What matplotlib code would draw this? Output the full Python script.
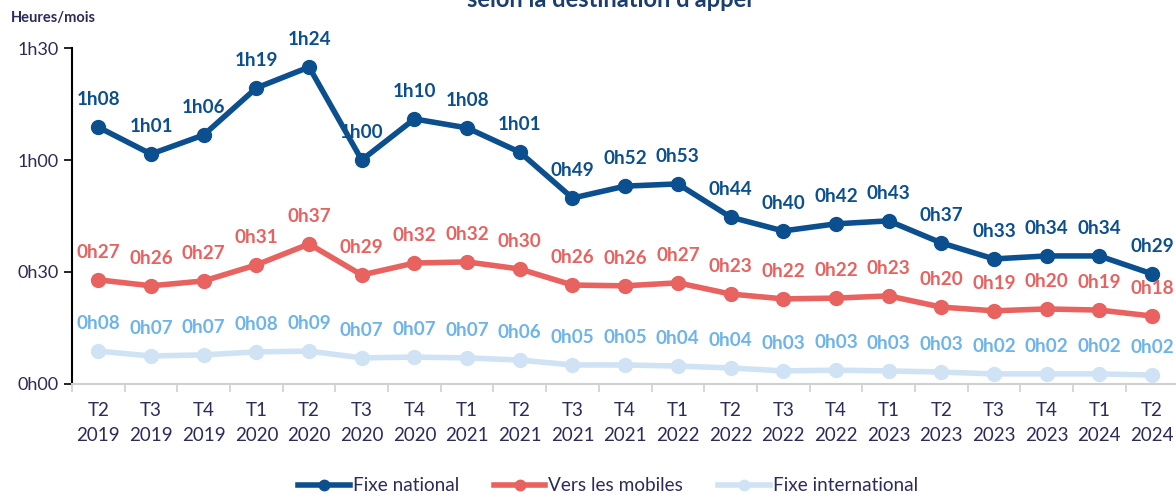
import matplotlib.pyplot as plt

# quarters
quarters = ['T2\n2019', 'T3\n2019', 'T4\n2019', 'T1\n2020', 'T2\n2020', 'T3\n2020', 'T4\n2020',
            'T1\n2021', 'T2\n2021', 'T3\n2021', 'T4\n2021', 'T1\n2022', 'T2\n2022', 'T3\n2022',
            'T4\n2022', 'T1\n2023', 'T2\n2023', 'T3\n2023', 'T4\n2023', 'T1\n2024', 'T2\n2024']

# minutes per month
fixe_national = [68.8, 61.6, 66.7, 79.3, 84.9, 60.0, 71.0, 68.6, 62.1, 49.8, 53.0,
                 53.6, 44.7, 41.0, 42.9, 43.7, 37.8, 33.5, 34.3, 34.3, 29.5]
vers_mobiles = [27.9, 26.3, 27.6, 31.9, 37.5, 29.2, 32.4, 32.7, 30.8, 26.5, 26.3,
                27.1, 24.1, 22.8, 23.0, 23.6, 20.6, 19.6, 20.1, 19.8, 18.2]
fixe_inter = [8.8, 7.5, 7.8, 8.6, 8.8, 7.0, 7.2, 7.0, 6.4, 5.1, 5.1,
              4.8, 4.3, 3.5, 3.7, 3.5, 3.2, 2.7, 2.7, 2.7, 2.4]

lab_national = ['1h08', '1h01', '1h06', '1h19', '1h24', '1h00', '1h10', '1h08', '1h01', '0h49', '0h52',
                '0h53', '0h44', '0h40', '0h42', '0h43', '0h37', '0h33', '0h34', '0h34', '0h29']
lab_mobiles = ['0h27', '0h26', '0h27', '0h31', '0h37', '0h29', '0h32', '0h32', '0h30', '0h26', '0h26',
               '0h27', '0h23', '0h22', '0h22', '0h23', '0h20', '0h19', '0h20', '0h19', '0h18']
lab_inter = ['0h08', '0h07', '0h07', '0h08', '0h09', '0h07', '0h07', '0h07', '0h06', '0h05', '0h05',
             '0h04', '0h04', '0h03', '0h03', '0h03', '0h03', '0h02', '0h02', '0h02', '0h02']

plt.rcParams['font.family'] = ['Lato', 'DejaVu Sans']
navy = '#2b2b5c'

fig = plt.figure(figsize=(11.76, 4.94), dpi=100)
ax = fig.add_axes([0.0612, 0.2227, 0.9408, 0.6801])

x = range(len(quarters))
series = [
    (fixe_national, lab_national, '#0b4f8f', '#0b4f8f', 'Fixe national'),
    (vers_mobiles, lab_mobiles, '#e8625f', '#e8625f', 'Vers les mobiles'),
    (fixe_inter, lab_inter, '#cfe3f5', '#6db4ea', 'Fixe international'),
]
for vals, labs, col, tcol, name in series:
    ax.plot(x, vals, color=col, lw=4, marker='o', ms=10, label=name, solid_joinstyle='round')
    for i, (v, t) in enumerate(zip(vals, labs)):
        ax.annotate(t, (i, v), xytext=(0, 20), textcoords='offset points', ha='center',
                    va='center', fontsize=13.6, fontweight='bold', color=tcol)

ax.set_xlim(-0.5, 20.5)
ax.set_ylim(0, 90)
ax.set_yticks([0, 30, 60, 90])
ax.set_yticklabels(['0h00', '0h30', '1h00', '1h30'], fontsize=13, color=navy)
ax.set_xticks(list(x))
ax.set_xticklabels(quarters, fontsize=13.5, color=navy, linespacing=1.6)
ax.set_xticks([i - 0.5 for i in range(len(quarters) + 1)], minor=True)
ax.tick_params(axis='x', which='major', length=0, pad=13)
ax.tick_params(axis='x', which='minor', length=6, color='#d0d0d0', width=1.2)
ax.tick_params(axis='y', length=6, color='black', width=1.2)

for s in ['top', 'right']:
    ax.spines[s].set_visible(False)
ax.spines['left'].set_color('black')
ax.spines['left'].set_linewidth(1.5)
ax.spines['bottom'].set_color('#d0d0d0')
ax.spines['bottom'].set_linewidth(1.5)

fig.text(0.009, 0.963, 'Heures/mois', fontsize=10.5, fontweight='bold', color=navy, va='center')
fig.text(0.518, 0.986, "selon la destination d'appel", fontsize=17, fontweight='bold',
         color='#1a3e6e', ha='center', va='baseline')

fig.legend(loc='lower center', bbox_to_anchor=(0.517, -0.035), ncol=3, frameon=False,
           fontsize=13.7, handlelength=2.7, columnspacing=1.85, handletextpad=0.15,
           labelcolor=navy, markerscale=0.75)

fig.savefig('out.png', dpi=100)
